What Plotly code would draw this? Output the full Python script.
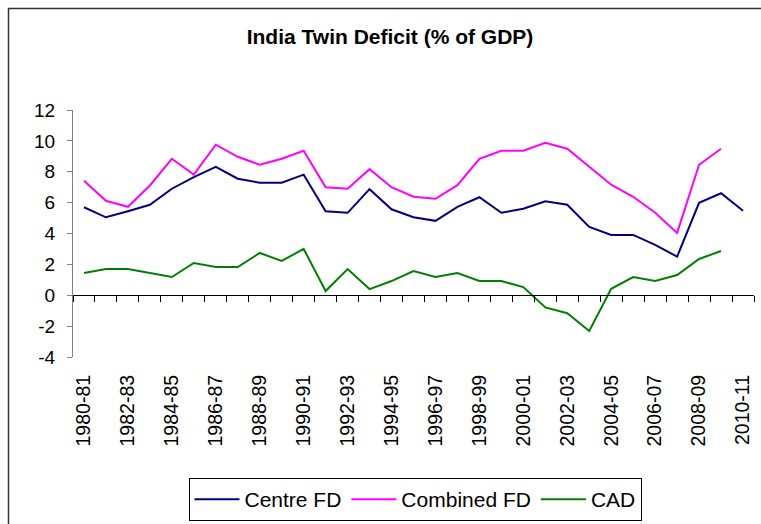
import plotly.graph_objects as go

categories = ["1980-81", "1981-82", "1982-83", "1983-84", "1984-85", "1985-86", "1986-87",
              "1987-88", "1988-89", "1989-90", "1990-91", "1991-92", "1992-93", "1993-94",
              "1994-95", "1995-96", "1996-97", "1997-98", "1998-99", "1999-00", "2000-01",
              "2001-02", "2002-03", "2003-04", "2004-05", "2005-06", "2006-07", "2007-08",
              "2008-09", "2009-10", "2010-11"]

centre_fd = [5.7, 5.05, 5.44, 5.86, 6.9, 7.65, 8.32, 7.55, 7.29, 7.29, 7.81, 5.44, 5.34, 6.87,
             5.57, 5.05, 4.82, 5.73, 6.35, 5.34, 5.6, 6.09, 5.86, 4.43, 3.91, 3.91, 3.26, 2.5,
             5.99, 6.61, 5.47]
combined_fd = [7.41, 6.12, 5.73, 7.11, 8.84, 7.81, 9.75, 8.97, 8.45, 8.84, 9.36, 7.0, 6.9, 8.17,
               7.0, 6.38, 6.25, 7.13, 8.84, 9.36, 9.36, 9.88, 9.49, 8.32, 7.16, 6.38, 5.34, 4.04,
               8.45, 9.49, None]
cad = [1.44, 1.7, 1.7, 1.44, 1.18, 2.09, 1.83, 1.83, 2.74, 2.22, 3.0, 0.27, 1.7, 0.4, 0.92,
       1.57, 1.18, 1.44, 0.92, 0.92, 0.53, -0.79, -1.16, -2.32, 0.42, 1.18, 0.92, 1.31, 2.35,
       2.87, None]

y_ticks = [-4, -2, 0, 2, 4, 6, 8, 10, 12]
y_tick_text = ["-4", "-2", "0", "2", "4", "6", "8", "10", "12"]

FONT = "Liberation Sans, Arial, sans-serif"
W, H = 761, 524
ML, MR, MT, MB = 73, 7, 110, 167
PW, PH = W - ML - MR, H - MT - MB

n = len(categories)
fig = go.Figure()
for name, vals, col in [("Centre FD", centre_fd, "#000080"),
                        ("Combined FD", combined_fd, "#FF00FF"),
                        ("CAD", cad, "#008000")]:
    fig.add_trace(go.Scatter(x=categories, y=vals, name=name, mode="lines",
                             line=dict(color=col, width=2), connectgaps=False))

# invisible trace for the zero-crossing axis with category-boundary ticks
fig.add_trace(go.Scatter(x=[-0.5, n - 0.5], y=[0, 0], xaxis="x2", mode="lines",
                         line=dict(width=0), showlegend=False, hoverinfo="skip"))

def px_x(p):
    return (p - ML) / PW

def px_y(p):
    return (H - MB - p) / PH

fig.update_layout(
    width=W, height=H,
    margin=dict(l=ML, r=MR, t=MT, b=MB, autoexpand=False),
    paper_bgcolor="white", plot_bgcolor="white",
    font=dict(family=FONT, size=19, color="black"),
    title=dict(text="<b>India Twin Deficit (% of GDP)</b>", x=390 / W, xref="container",
               xanchor="center", y=1 - 37 / H, yanchor="middle",
               font=dict(size=21, family=FONT, color="black")),
    xaxis=dict(type="category", range=[-0.5, n - 0.5], tickmode="array",
               tickvals=categories[::2], ticktext=categories[::2], tickangle=-90,
               showline=False, ticks="", showgrid=False, zeroline=False,
               ticklabelstandoff=13, tickfont=dict(size=19.5)),
    xaxis2=dict(overlaying="x", anchor="free", position=4 / 16, range=[-0.5, n - 0.5],
                tickmode="array", tickvals=[i - 0.5 for i in range(n + 1)],
                showticklabels=False, ticks="outside", ticklen=6, tickcolor="black",
                tickwidth=1, showline=True, linecolor="black", linewidth=1,
                showgrid=False, zeroline=False),
    yaxis=dict(range=[-4, 12], tickmode="array", tickvals=y_ticks, ticktext=y_tick_text,
               showgrid=False, zeroline=False, showline=True, linecolor="#808080",
               linewidth=1, ticks="outside", ticklen=5, tickcolor="#808080",
               ticklabelstandoff=8, tickfont=dict(size=19)),
    legend=dict(orientation="h", x=px_x(415), xanchor="center", y=px_y(478),
                yanchor="top", bordercolor="black", borderwidth=1,
                font=dict(size=21), itemwidth=45, bgcolor="white"),
    shapes=[dict(type="rect", xref="paper", yref="paper",
                 x0=px_x(8.5), x1=px_x(780), y0=px_y(540), y1=px_y(8.5),
                 line=dict(color="#333333", width=1.5), layer="below")],
)

fig.write_html("out.html", config={"displayModeBar": False},
               post_script="document.body.style.margin='0';")
